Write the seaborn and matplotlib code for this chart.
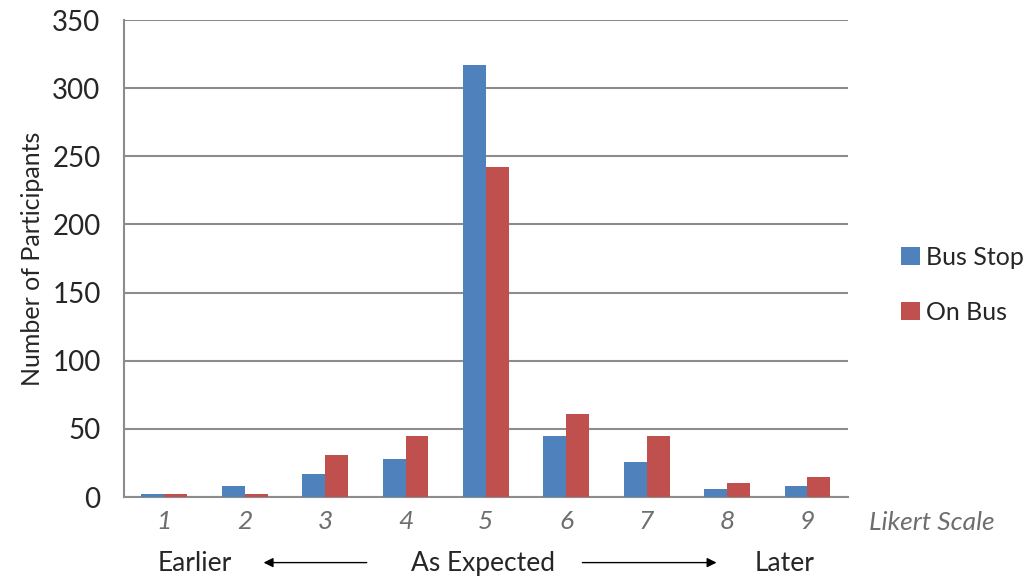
import pandas as pd
import numpy as np
import matplotlib.pyplot as plt
import matplotlib.patches as mpatches
import seaborn as sns

# values
likert = ["1", "2", "3", "4", "5", "6", "7", "8", "9"]
bus_stop = [2, 8, 17, 28, 317, 45, 26, 6, 8]
on_bus = [2, 2, 31, 45, 242, 61, 45, 10, 15]
series = ["Bus Stop", "On Bus"]
y_ticks = [0, 50, 100, 150, 200, 250, 300, 350]

df = pd.DataFrame({
    "LIKERT": likert * 2,
    "COUNT": bus_stop + on_bus,
    "GROUP": [series[0]] * len(likert) + [series[1]] * len(likert),
})

sns.set_style("white")
plt.rcParams["font.family"] = ["Lato", "DejaVu Sans"]

fig = plt.figure(figsize=(10.35, 5.8), dpi=100)
ax = fig.add_axes([0.12, 0.143, 0.699, 0.8225])

sns.barplot(data=df, x="LIKERT", y="COUNT", hue="GROUP", order=likert,
            hue_order=series, palette=["#4F81BD", "#C0504D"], width=0.57,
            saturation=1, linewidth=0, ax=ax, zorder=3)

ax.set_xlim(-0.5, len(likert) - 0.5)
ax.set_ylim(0, 350)
ax.set_yticks(y_ticks)
ax.set_yticklabels([str(t) for t in y_ticks], fontsize=20)
ax.yaxis.grid(True, color="#8c8c8c", linewidth=1.5, zorder=0)
ax.set_axisbelow(True)

# ticks at category boundaries
ax.set_xticks(np.arange(-0.5, len(likert)), minor=True)
ax.set_xticklabels(likert, fontsize=19, style="italic", color="#6e6e6e")
ax.tick_params(axis="x", which="major", length=0, pad=9)
ax.tick_params(axis="x", which="minor", length=9, width=1.5, color="#8c8c8c", direction="out")
ax.tick_params(axis="y", length=9, width=1.5, color="#8c8c8c", direction="out", pad=8)

for side in ["top", "right"]:
    ax.spines[side].set_visible(False)
for side in ["left", "bottom"]:
    ax.spines[side].set_color("#8c8c8c")
    ax.spines[side].set_linewidth(1.5)

ax.set_xlabel("")
ax.set_ylabel("Number of Participants", fontsize=18, labelpad=6)

leg = ax.legend(loc="upper left", bbox_to_anchor=(1.05, 0.564), frameon=False,
                fontsize=18, handlelength=0.75, handleheight=0.75,
                handletextpad=0.25, labelspacing=1.3, borderpad=0.2)

fig.text(0.84, 0.1, "Likert Scale", fontsize=19, style="italic", color="#6e6e6e", va="center")
fig.text(0.188, 0.028, "Earlier", fontsize=19, ha="center", va="center")
fig.text(0.467, 0.028, "As Expected", fontsize=19, ha="center", va="center")
fig.text(0.758, 0.028, "Later", fontsize=19, ha="center", va="center")
fig.add_artist(mpatches.FancyArrowPatch(
    (0.357, 0.03), (0.252, 0.03), transform=fig.transFigure,
    arrowstyle="-|>", mutation_scale=14, color="black", linewidth=1))
fig.add_artist(mpatches.FancyArrowPatch(
    (0.56, 0.03), (0.695, 0.03), transform=fig.transFigure,
    arrowstyle="-|>", mutation_scale=14, color="black", linewidth=1))

plt.savefig("out.png", dpi=100)
